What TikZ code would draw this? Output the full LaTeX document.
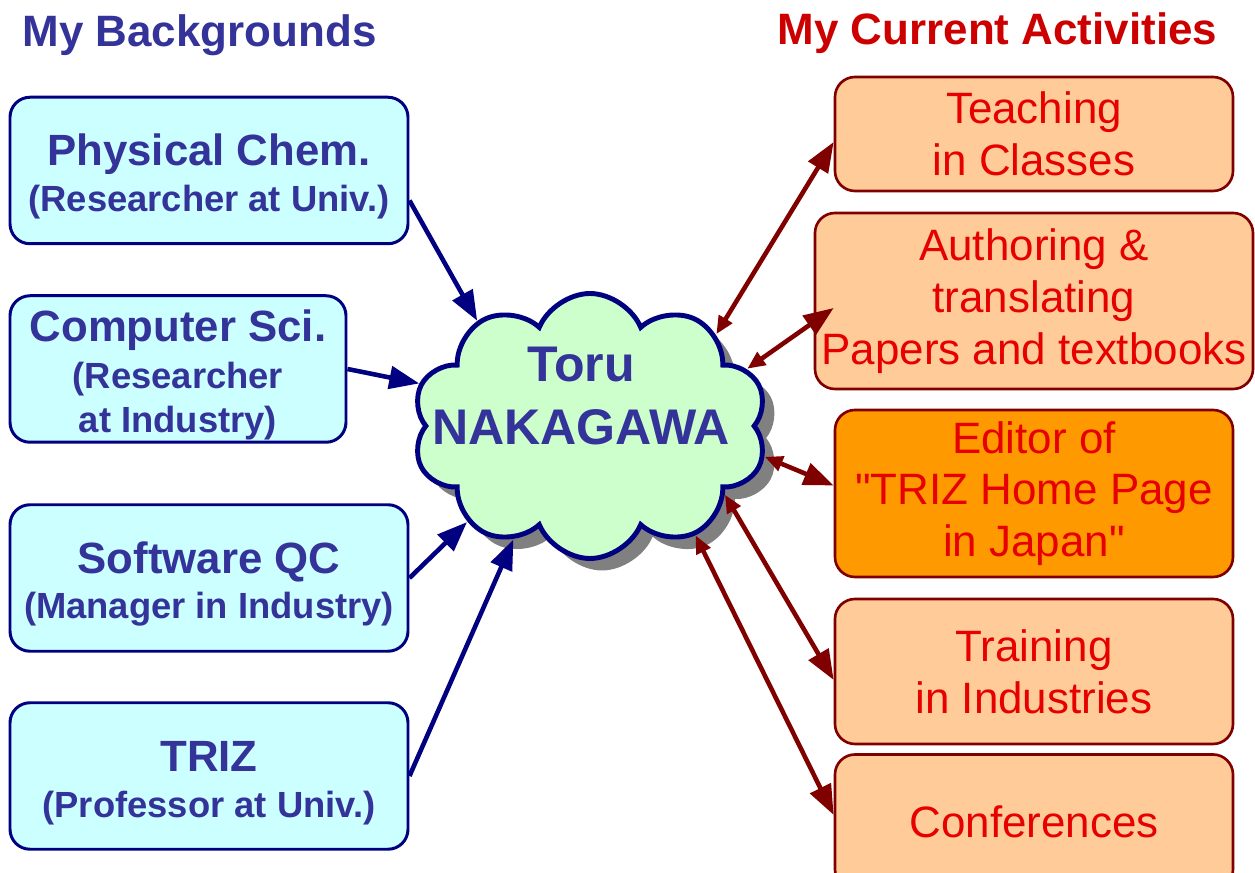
\documentclass[tikz,border=0pt]{standalone}
\usepackage{fontspec}
\setmainfont{Liberation Sans}[Ligatures=TeXOff]
\usetikzlibrary{positioning}
\usetikzlibrary{shapes.symbols, shadows, arrows.meta}

\definecolor{bgtext}{RGB}{51,51,153}
\definecolor{bgline}{RGB}{0,0,128}
\definecolor{bgfill}{RGB}{204,255,255}
\definecolor{actline}{RGB}{128,0,0}
\definecolor{actfill}{RGB}{255,204,153}
\definecolor{editfill}{RGB}{255,153,0}
\definecolor{acttext}{RGB}{230,0,0}
\definecolor{acttitle}{RGB}{204,0,0}
\definecolor{cloudfill}{RGB}{204,255,204}

\tikzset{
  bgbox/.style={draw=bgline, fill=bgfill, line width=1.7pt, rounded corners=0.4cm,
    text=bgtext, align=center, inner sep=0pt, minimum height=2.93cm,
    font=\bfseries\fontsize{20.7}{25}\selectfont},
  actbox/.style={draw=actline, fill=actfill, line width=1.5pt, rounded corners=0.4cm,
    text=acttext, align=center, inner sep=0pt, minimum width=7.96cm,
    font=\fontsize{25}{29.5}\selectfont},
  title/.style={font=\bfseries\fontsize{25}{29}\selectfont},
  cloudshape/.style={cloud, cloud puffs=10, cloud puff arc=135, cloud ignores aspect,
    minimum width=7.1cm, minimum height=5.3cm, inner sep=0pt,
    draw=bgline, fill=cloudfill, line width=2.8pt,
    drop shadow={shadow xshift=0.24cm, shadow yshift=-0.24cm, fill=gray, opacity=1}},
  nametext/.style={text=bgtext, align=center, font=\bfseries\fontsize{28.5}{35.7}\selectfont},
  bgarrow/.style={draw=bgline, line width=2.6pt, -{Triangle[length=0.6cm,width=0.45cm]}},
  actarrow/.style={draw=actline, line width=2.6pt,
    {Triangle[length=0.36cm,width=0.3cm]}-{Triangle[length=0.6cm,width=0.45cm]}},
}
\newcommand{\bighead}[1]{{\fontsize{24.9}{25}\selectfont\rule{0pt}{25pt}#1}}

\begin{document}
\begin{tikzpicture}
\useasboundingbox (0,0) rectangle (25.1,17.46);

% titles
\node[title, text=bgtext] (bgtitle) at (3.99,16.76) {My Backgrounds};
\node[title, text=acttitle] (acttitle) at (19.95,16.8) {My Current Activities};

% the cloud in the middle
\node[cloudshape] (me) at (11.8,8.94) {};
\node[nametext] (name) at (11.62,9.54) {Toru\\NAKAGAWA};

% backgrounds
\node[bgbox, minimum width=7.96cm] (phys) at (4.18,14.05) {\bighead{Physical Chem.}\\[1pt](Researcher at Univ.)};
\node[bgbox, minimum width=6.72cm] (comp) at (3.56,10.08) {\bighead{Computer Sci.}\\[2pt](Researcher\\at Industry)};
\node[bgbox, minimum width=7.96cm] (qc) at (4.18,5.9) {\bighead{Software QC}\\[1pt](Manager in Industry)};
\node[bgbox, minimum width=7.96cm] (triz) at (4.18,1.94) {\bighead{TRIZ}\\[1pt](Professor at Univ.)};

% activities
\node[actbox, minimum height=2.28cm] (teach) at (20.68,14.78) {Teaching\\in Classes};
\node[actbox, minimum width=8.76cm, minimum height=3.52cm] (author) at (20.68,11.44) {Authoring \&\\translating\\Papers and textbooks};
\node[actbox, fill=editfill, minimum height=3.34cm] (editor) at (20.68,7.59) {Editor of\\"TRIZ Home Page\\in Japan"};
\node[actbox, minimum height=2.9cm] (train) at (20.68,4.03) {Training\\in Industries};
\node[actbox, minimum height=2.7cm] (conf) at (20.68,1.02) {Conferences};

% arrows in
\draw[bgarrow] ([yshift=-0.6cm]phys.east) -- (me.137);
\draw[bgarrow] (comp.east) -- (me.166);
\draw[bgarrow] (qc.east) -- (me.218);
\draw[bgarrow] (triz.east) -- (me.236);

% arrows out
\draw[actarrow] (me.36) -- ([yshift=-0.16cm]teach.west);
\draw[actarrow] (me.20) -- ([xshift=0.4cm,yshift=-0.14cm]author.west);
\draw[actarrow] (me.-10) -- ([yshift=0.16cm]editor.west);
\draw[actarrow] (me.-27) -- ([yshift=-0.17cm]train.west);
\draw[actarrow] (me.-46) -- ([yshift=0.14cm]conf.west);
\end{tikzpicture}
\end{document}
